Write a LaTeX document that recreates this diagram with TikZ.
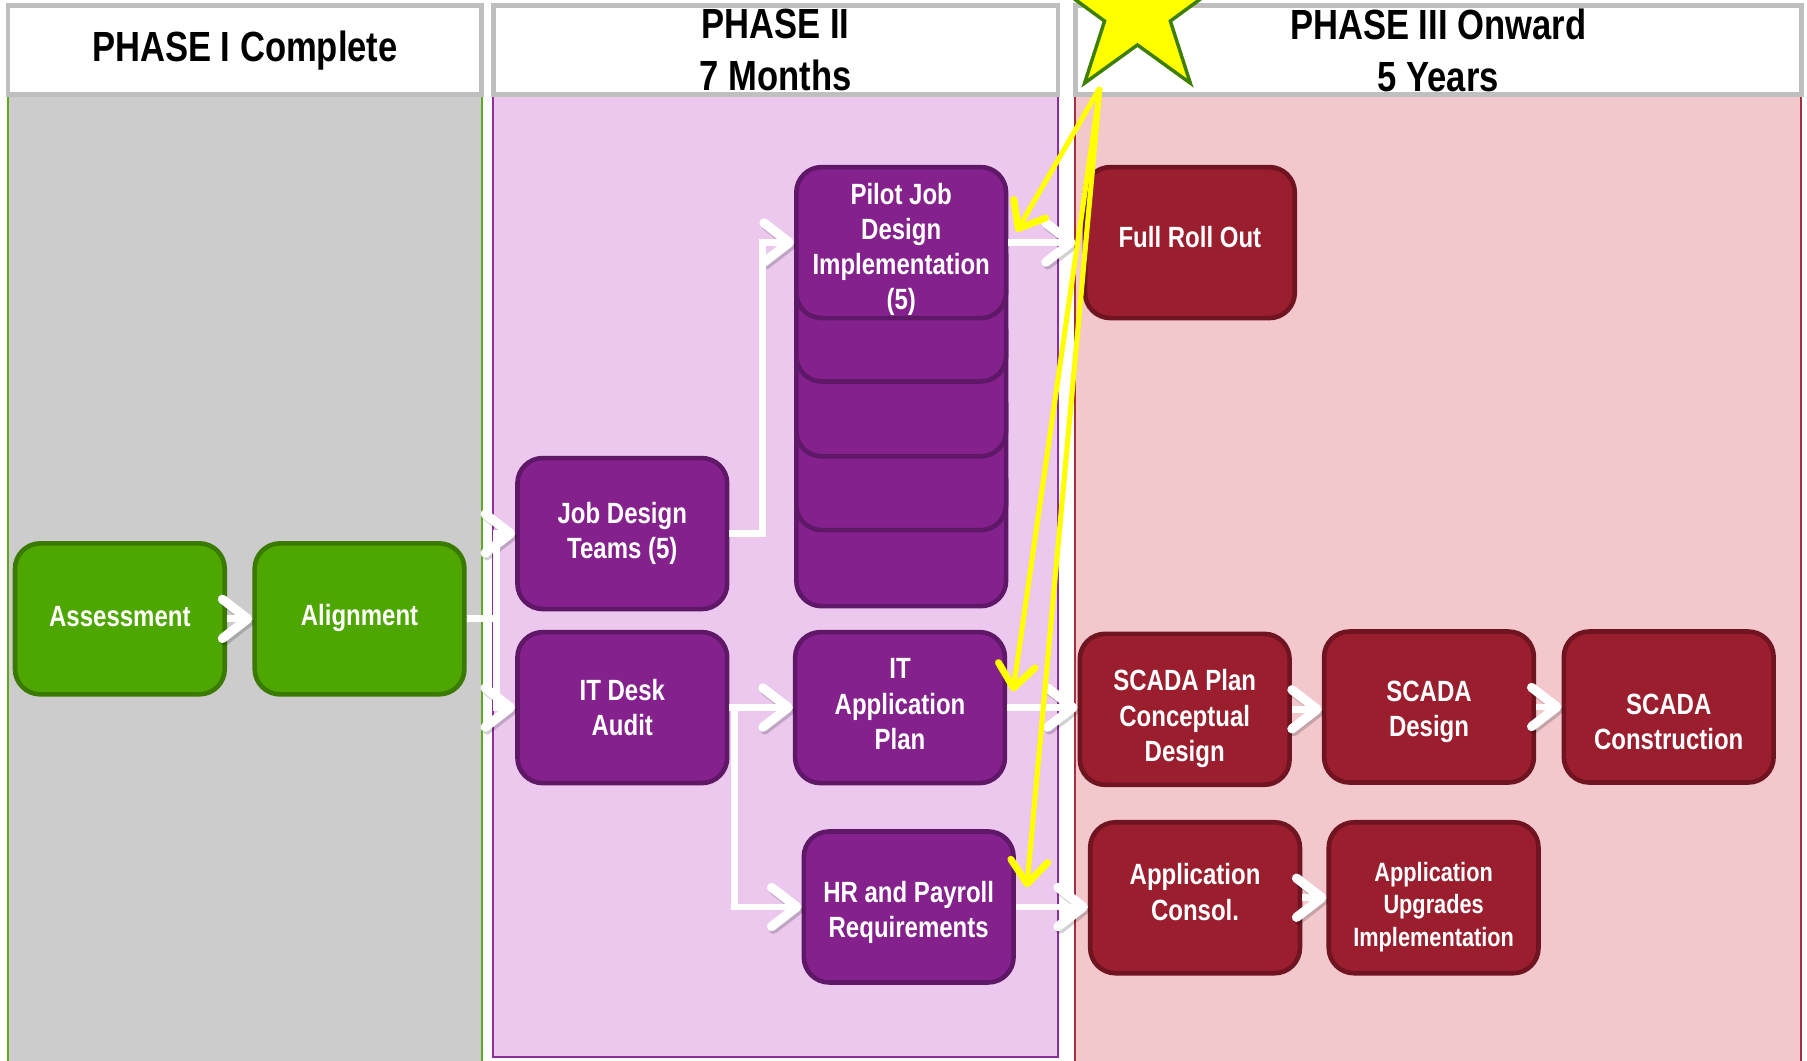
\documentclass[tikz,border=0pt]{standalone}
\usepackage{fontspec}
\setmainfont{Liberation Sans}[FakeStretch=0.82]
\usetikzlibrary{arrows.meta,shapes.geometric}
\definecolor{grnfill}{HTML}{4EA600}
\definecolor{grndraw}{HTML}{3A7A00}
\definecolor{purfill}{HTML}{84218D}
\definecolor{purdraw}{HTML}{5F1767}
\definecolor{redfill}{HTML}{9B1E2E}
\definecolor{reddraw}{HTML}{6F1420}
\definecolor{colI}{HTML}{CCCCCC}
\definecolor{colII}{HTML}{ECC8EF}
\definecolor{colIII}{HTML}{F2C8CD}
\definecolor{edgeI}{HTML}{5DAA1E}
\definecolor{edgeII}{HTML}{8E2E9C}
\definecolor{edgeIII}{HTML}{A23040}
\definecolor{hdrgray}{HTML}{BFBFBF}
\definecolor{staryellow}{HTML}{FFFF00}
\definecolor{stargreen}{HTML}{3F7F00}
% box node with separately placed (shifted) text
\newcommand\boxnode[6][]{%
  \node[#2] (#3) at #4 {};
  \node[txt,#1] (#3t) at ([yshift=#5]#3.center) {#6};}
\begin{document}
\begin{tikzpicture}[x=0.5pt,y=-0.5pt,
  box/.style={rounded corners=11pt, line width=2pt, minimum width=91pt, minimum height=65.5pt, inner sep=0pt},
  txt/.style={align=center, inner sep=0pt, text=white, font=\bfseries\fontsize{12.7}{15.3}\selectfont},
  smalltxt/.style={font=\bfseries\fontsize{11.5}{14}\selectfont},
  gbox/.style={box, fill=grnfill, draw=grndraw},
  pbox/.style={box, fill=purfill, draw=purdraw},
  rbox/.style={box, fill=redfill, draw=reddraw},
  hdr/.style={draw=hdrgray, line width=2pt, fill=white, inner sep=0pt, minimum height=38.5pt},
  hdrtext/.style={align=center, inner sep=0pt, font=\bfseries\fontsize{18.3}{22.5}\selectfont},
  wshadow/.style={preaction={draw=black, draw opacity=0.18, transform canvas={shift={(0.8pt,-1.2pt)}}}},
  warr/.style={wshadow, draw=white, line width=3pt, -{Straight Barb[length=11pt,width=17pt,line width=4pt,round]}},
  wline/.style={wshadow, draw=white, line width=3pt},
  yarr/.style={draw=staryellow, line width=2.2pt, -{Straight Barb[length=10pt,width=16pt,line width=3pt,round]}},
]
\useasboundingbox (0,0) rectangle (1568,920);
\clip (0,0) rectangle (1568,920);
\fill[white] (0,0) rectangle (1568,920);

% phase bodies
\filldraw[fill=colI, draw=edgeI, line width=1pt] (7,82) rectangle (418,922);
\filldraw[fill=colII, draw=edgeII, line width=1pt] (428,82) rectangle (918,917);
\filldraw[fill=colIII, draw=edgeIII, line width=1pt] (933,82) rectangle (1563,922);

% headers
\node[hdr, minimum width=205.5pt] (h1) at (212.5,43.5) {};
\node[hdr, minimum width=245pt] (h2) at (673,43.5) {};
\node[hdr, minimum width=315pt] (h3) at (1248,43.5) {};
\node[hdrtext] (t1) at (h1.center) {PHASE I Complete};
\node[hdrtext] (t2) at (h2.center) {PHASE II\\7 Months};
\node[hdrtext] (t3) at (h3.center) {PHASE III Onward\\5 Years};

% nodes
\boxnode{gbox}{assess}{(104,537)}{1pt}{Assessment}
\boxnode{gbox}{align}{(312,537)}{0.5pt}{Alignment}
\boxnode{pbox}{jdt}{(540,463)}{0pt}{Job Design\\Teams (5)}
\boxnode{pbox}{itda}{(540,614)}{0pt}{IT Desk\\Audit}
\node[pbox] (st5) at (782,460.5) {};
\node[pbox] (st4) at (782,394.5) {};
\node[pbox] (st3) at (782,330.5) {};
\node[pbox] (st2) at (782,265.5) {};
\boxnode{pbox}{pilot}{(782,210.5)}{-3pt}{Pilot Job\\Design\\Implementation\\(5)}
\boxnode{pbox}{itap}{(781,614)}{1.5pt}{IT\\Application\\Plan}
\boxnode{pbox}{hr}{(788.5,787)}{-2.5pt}{HR and Payroll\\Requirements}
\boxnode{rbox}{full}{(1032.5,210.5)}{2.5pt}{Full Roll Out}
\boxnode{rbox}{scp}{(1028,615.5)}{-4pt}{SCADA Plan\\Conceptual\\Design}
\boxnode{rbox}{scd}{(1240,613.5)}{-2pt}{SCADA\\Design}
\boxnode{rbox}{scc}{(1448,613.5)}{-6.5pt}{SCADA\\Construction}
\boxnode{rbox}{appc}{(1037,779)}{2.5pt}{Application\\Consol.}
\boxnode[smalltxt]{rbox}{appu}{(1244,779)}{-4pt}{Application\\Upgrades\\Implementation}

% white connectors
\draw[warr] (assess.east) -- (align.west);
\coordinate (split) at (431,537);
\draw[wline] (align.east) -- (split);
\draw[warr] (split) |- (jdt.west);
\draw[warr] (split) |- (itda.west);
\draw[warr] (jdt.east) -- ++(29,0) |- (pilot.west);
\draw[warr] (pilot.east) -- ([xshift=-3pt]full.west);
\draw[warr] (itda.east) -- (itap.west);
\draw[warr] ([xshift=2pt]itda.east) |- (hr.west);
\draw[warr] (itap.east) -- (itap.east -| scp.west);
\draw[warr] (hr.east) -- (hr.east -| appc.west);
\draw[warr] (scp.east) -- (scp.east -| scd.west);
\draw[warr] (scd.east) -- (scc.west);
\draw[warr] (appc.east) -- (appu.west);

% yellow connectors
\coordinate (ysrc) at (954.5,76);
\coordinate (yt1) at (882,201);
\coordinate (yt2) at (879,600);
\coordinate (yt3) at (891,770);
\draw[yarr] (ysrc) -- (yt1);
\draw[yarr] (ysrc) -- (yt2);
\draw[yarr] (ysrc) -- (yt3);

% star
\node[star, star points=5, star point ratio=2.6, minimum size=78pt, inner sep=0pt, fill=staryellow, draw=stargreen, line width=1.5pt] (star) at (987,9) {};
\end{tikzpicture}
\end{document}
